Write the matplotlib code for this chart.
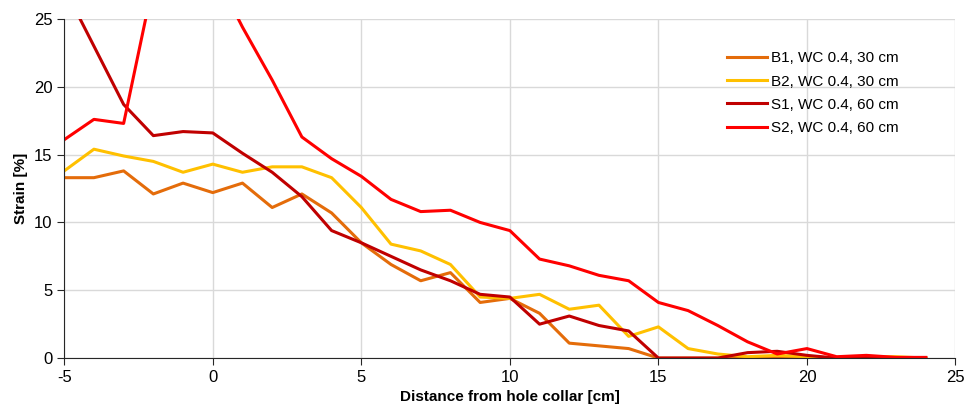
import numpy as np
import matplotlib.pyplot as plt

plt.rcParams['font.family'] = ['Liberation Sans', 'DejaVu Sans']
plt.rcParams['axes.unicode_minus'] = False

x = np.arange(-5, 25)
b1 = [13.3, 13.3, 13.8, 12.1, 12.9, 12.2, 12.9, 11.1, 12.1, 10.7,
      8.5, 6.9, 5.7, 6.3, 4.1, 4.4, 3.3, 1.1, 0.9, 0.7,
      0.0, 0.0, 0.0, 0.0, 0.0, 0.0, 0.0, 0.0, 0.0, 0.0]
b2 = [13.8, 15.4, 14.9, 14.5, 13.7, 14.3, 13.7, 14.1, 14.1, 13.3,
      11.1, 8.4, 7.9, 6.9, 4.5, 4.4, 4.7, 3.6, 3.9, 1.6,
      2.3, 0.7, 0.3, 0.1, 0.2, 0.1, 0.0, 0.1, 0.1, 0.0]
s1 = [27.3, 23.0, 18.7, 16.4, 16.7, 16.6, 15.1, 13.7, 11.9, 9.4,
      8.5, 7.5, 6.5, 5.7, 4.7, 4.5, 2.5, 3.1, 2.4, 2.0,
      0.0, 0.0, 0.0, 0.4, 0.5, 0.2, 0.0, 0.1, 0.0, 0.0]
s2 = [16.1, 17.6, 17.3, 27.7, 30.0, 28.7, 24.4, 20.5, 16.3, 14.7,
      13.4, 11.7, 10.8, 10.9, 10.0, 9.4, 7.3, 6.8, 6.1, 5.7,
      4.1, 3.5, 2.4, 1.2, 0.3, 0.7, 0.1, 0.2, 0.05, 0.05]
labels = ['B1, WC 0.4, 30 cm', 'B2, WC 0.4, 30 cm', 'S1, WC 0.4, 60 cm', 'S2, WC 0.4, 60 cm']
colors = ['#E46C0A', '#FFC000', '#C00000', '#FF0000']

fig = plt.figure(figsize=(9.73, 4.13), dpi=100)
ax = fig.add_axes([0.066, 0.133, 0.916, 0.821])
for y, lab, c in zip([b1, b2, s1, s2], labels, colors):
    ax.plot(x, y, color=c, lw=2.2, label=lab)

ax.set_xlim(-5, 25)
ax.set_ylim(0, 25)
ax.set_xticks(range(-5, 26, 5))
ax.set_yticks(range(0, 26, 5))
ax.grid(True, color='#D9D9D9', lw=1)
ax.set_axisbelow(True)
for s in ['top', 'right']:
    ax.spines[s].set_visible(False)
ax.spines['left'].set_color('#262626')
ax.spines['bottom'].set_color('#262626')
ax.tick_params(labelsize=12, color='#262626', length=5, direction='out')
ax.set_xlabel('Distance from hole collar [cm]', fontsize=11, fontweight='bold')
ax.set_ylabel('Strain [%]', fontsize=11, fontweight='bold')
ax.legend(loc='upper right', bbox_to_anchor=(0.952, 0.945), frameon=False, fontsize=11,
          handlelength=2.6, labelspacing=0.6, handletextpad=0.3)

fig.savefig('out.png', dpi=100)
